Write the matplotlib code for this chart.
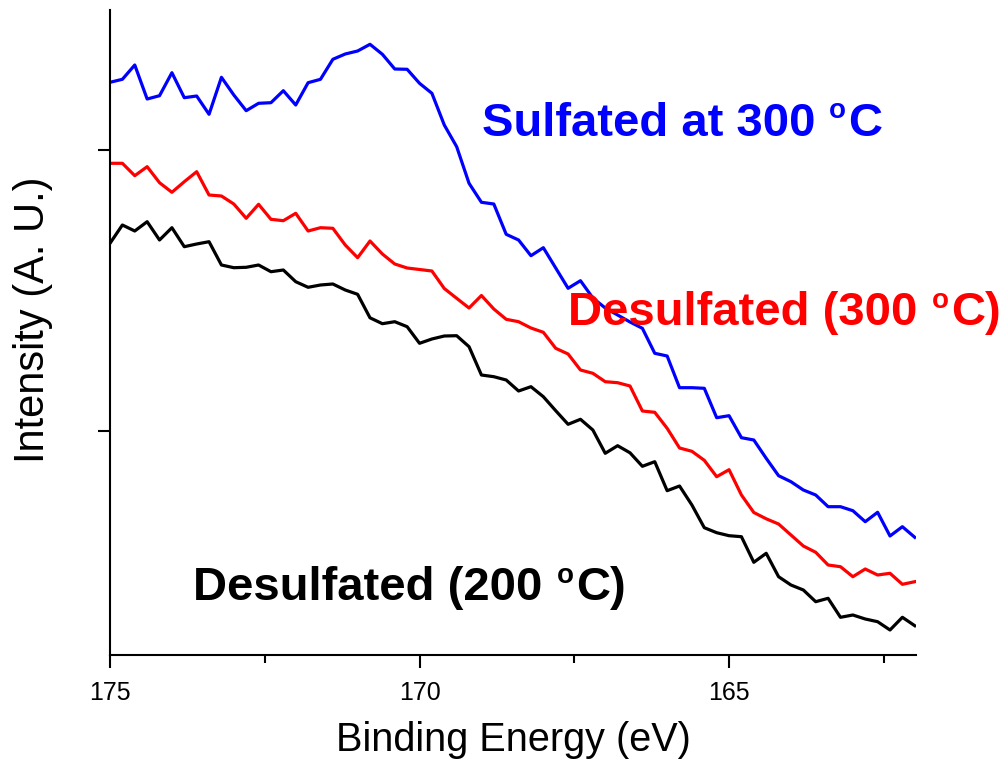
import matplotlib
matplotlib.use("Agg")
import matplotlib.pyplot as plt
import numpy as np

# Binding energy grid (eV), 175.0 down to 162.0 in 0.2 eV steps
binding_energy = [175.0, 174.8, 174.6, 174.4, 174.2, 174.0, 173.8, 173.6, 173.4, 173.2,
                  173.0, 172.8, 172.6, 172.4, 172.2, 172.0, 171.8, 171.6, 171.4, 171.2,
                  171.0, 170.8, 170.6, 170.4, 170.2, 170.0, 169.8, 169.6, 169.4, 169.2,
                  169.0, 168.8, 168.6, 168.4, 168.2, 168.0, 167.8, 167.6, 167.4, 167.2,
                  167.0, 166.8, 166.6, 166.4, 166.2, 166.0, 165.8, 165.6, 165.4, 165.2,
                  165.0, 164.8, 164.6, 164.4, 164.2, 164.0, 163.8, 163.6, 163.4, 163.2,
                  163.0, 162.8, 162.6, 162.4, 162.2, 162.0]

sulfated_300 = [617.7, 620.7, 635, 601, 604.3, 627.3, 602.3, 604, 585.7, 622.7,
                605, 589.3, 596.7, 597.3, 609.3, 595, 617.3, 620.7, 640.7, 646,
                649, 655.7, 645.7, 631, 630.7, 616.7, 606.7, 575, 553.3, 516.7,
                497.7, 496, 465.7, 460, 444.3, 452.3, 432, 411.7, 419.3, 402,
                392, 385, 378, 371.7, 346.7, 344, 312.3, 312.3, 311.7, 282.3,
                284.3, 262.3, 260, 241.7, 224.3, 218.3, 210, 205, 193.3, 193.3,
                189.3, 178.3, 187.7, 164, 173.3, 162.7]

desulfated_300 = [536.7, 536.7, 524.3, 533.3, 517.3, 507.7, 518.3, 528.3, 505, 504,
                  496, 481.7, 495.7, 480.7, 479.3, 486.7, 469, 472.3, 471.7, 455,
                  442.3, 459, 446, 436, 432, 430.5, 429, 411.5, 401.7, 392,
                  404.5, 391, 380.7, 378.3, 372, 367.7, 351.7, 346, 330, 326.7,
                  318.3, 317.3, 314, 289, 287.7, 271.7, 252, 248.7, 239.7, 223.3,
                  230.3, 205, 187.5, 181.2, 176, 165, 154, 147.7, 135, 133.3,
                  123.3, 131, 125, 126.7, 115.7, 118.3]

desulfated_200 = [456.7, 475, 469, 478.3, 460, 472.3, 453.3, 456, 458.3, 435,
                  432.3, 432.7, 435, 428.3, 430, 418.3, 412.7, 415, 416, 410,
                  405.7, 382.2, 376.3, 378.3, 373.3, 356.7, 361, 364, 364.3, 353.3,
                  325, 323.3, 320, 309, 313.3, 303.3, 289.3, 275.7, 280.7, 270,
                  246.7, 254.3, 247.2, 233.7, 238.3, 209.3, 214, 195, 172.3, 167.3,
                  164.3, 163.3, 137.7, 146.7, 123.3, 115, 110, 98.3, 101.7, 82.7,
                  85, 81, 78.3, 70, 82.7, 74.3]

x_major_ticks = [175, 170, 165]
x_major_labels = ["175", "170", "165"]
x_minor_ticks = [172.5, 167.5, 162.5]
y_ticks = [269.3, 550]

FONT = "Liberation Sans"

fig = plt.figure(figsize=(10.07, 7.62), dpi=100)
ax = fig.add_axes([110 / 1007, 107 / 762, 806 / 1007, 645.5 / 762])

ax.plot(binding_energy, sulfated_300, color="#0000ff", lw=2.3)
ax.plot(binding_energy, desulfated_300, color="#ff0000", lw=2.3)
ax.plot(binding_energy, desulfated_200, color="#000000", lw=2.3)

ax.set_xlim(175, 161.98)
ax.set_ylim(45, 690.5)

for s in ["top", "right"]:
    ax.spines[s].set_visible(False)
for s in ["left", "bottom"]:
    ax.spines[s].set_linewidth(1.5)

ax.set_xticks(x_major_ticks)
ax.set_xticklabels(x_major_labels, fontfamily=FONT, fontsize=18)
ax.set_xticks(x_minor_ticks, minor=True)
ax.set_yticks(y_ticks)
ax.set_yticklabels([])
ax.tick_params(axis="both", which="major", direction="out", length=9, width=1.5)
ax.tick_params(axis="x", which="major", pad=10)
ax.tick_params(axis="x", which="minor", direction="out", length=6, width=1.5)

ax.set_xlabel("Binding Energy (eV)", fontfamily=FONT, fontsize=28.5)
ax.xaxis.set_label_coords(0.5, -0.102)
ax.set_ylabel("Intensity (A. U.)", fontfamily=FONT, fontsize=30)
ax.yaxis.set_label_coords(-0.071, 0.519)


def label(x, y, main, tail, color):
    t1 = ax.text(x, y, main, color=color, fontfamily=FONT, fontweight="bold",
                 fontsize=34, ha="left", va="baseline", clip_on=False)
    t2 = ax.annotate("o", xy=(1, y), xycoords=(t1, "data"), xytext=(10, 12.5),
                     textcoords="offset points", color=color, fontfamily=FONT,
                     fontweight="bold", fontsize=20, ha="left", va="baseline",
                     annotation_clip=False)
    ax.annotate(tail, xy=(1, y), xycoords=(t2, "data"), xytext=(1.5, 0),
                textcoords="offset points", color=color, fontfamily=FONT,
                fontweight="bold", fontsize=34, ha="left", va="baseline",
                annotation_clip=False)


label(168.995, 564.3, "Sulfated at 300", "C", "#0000ff")
label(167.596, 375, "Desulfated (300", "C)", "#ff0000")
label(173.654, 100, "Desulfated (200", "C)", "#000000")

fig.savefig("out.png", dpi=100)
